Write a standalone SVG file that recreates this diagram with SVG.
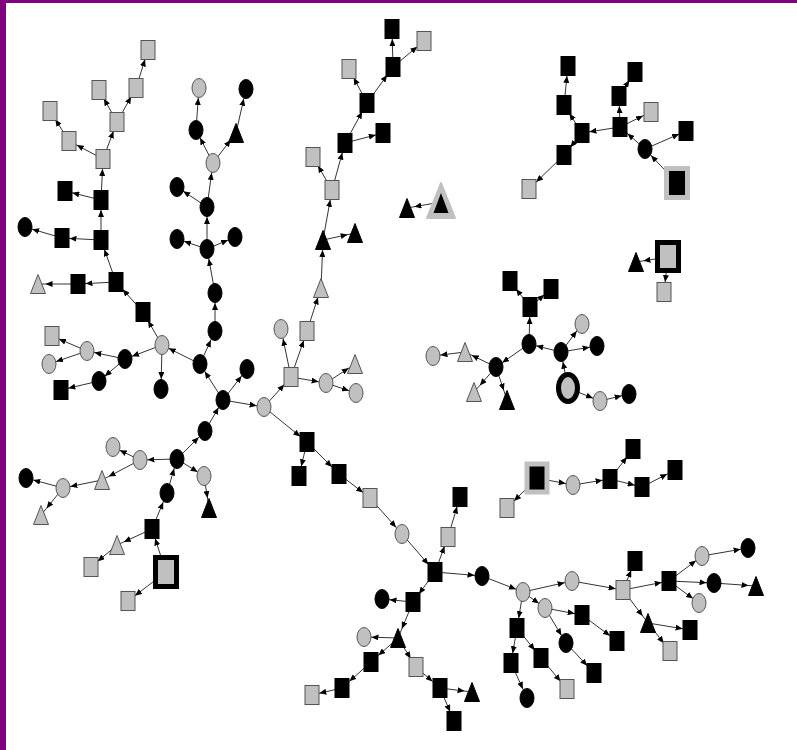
<svg xmlns="http://www.w3.org/2000/svg" xmlns:xlink="http://www.w3.org/1999/xlink" width="797" height="750" viewBox="0 0 797 750">
<style>
.e line{stroke:#333;stroke-width:1}
.A{marker-end:url(#mA)}
.B{marker-end:url(#mB)}
.C{marker-end:url(#mC)}
.g{fill:#c0c0c0;stroke:#555;stroke-width:1}
.b{fill:#000;stroke:#000;stroke-width:1}
</style>
<defs>
<marker id="mA" markerUnits="userSpaceOnUse" markerWidth="7" markerHeight="6" refX="14.5" refY="3" orient="auto"><path d="M0,0 L7,3 L0,6 z" fill="#000"/></marker>
<marker id="mB" markerUnits="userSpaceOnUse" markerWidth="7" markerHeight="6" refX="15.8" refY="3" orient="auto"><path d="M0,0 L7,3 L0,6 z" fill="#000"/></marker>
<marker id="mC" markerUnits="userSpaceOnUse" markerWidth="7" markerHeight="6" refX="17" refY="3" orient="auto"><path d="M0,0 L7,3 L0,6 z" fill="#000"/></marker>
<rect id="r" x="-7" y="-9.5" width="14" height="19"/>
<ellipse id="c" cx="0" cy="0" rx="7" ry="9.5"/>
<polygon id="t" points="0,-9.5 7.5,9.5 -7.5,9.5"/>
</defs>
<rect x="0" y="0" width="797" height="750" fill="#fff"/>
<rect x="0" y="0" width="6" height="750" fill="#800080"/>
<rect x="0" y="0" width="797" height="3" fill="#800080"/>
<g id="connectors" class="e">
<line class="C" x1="166" y1="572" x2="152" y2="529"/>
<line class="A" x1="152" y1="529" x2="117" y2="545"/>
<line class="B" x1="117" y1="545" x2="91" y2="567"/>
<line class="B" x1="166" y1="572" x2="128" y2="601"/>
<line class="C" x1="152" y1="529" x2="167" y2="493"/>
<line class="C" x1="167" y1="493" x2="177" y2="459"/>
<line class="A" x1="177" y1="459" x2="140" y2="460"/>
<line class="A" x1="140" y1="460" x2="113" y2="447"/>
<line class="A" x1="140" y1="460" x2="102" y2="480"/>
<line class="A" x1="102" y1="480" x2="63" y2="488"/>
<line class="A" x1="63" y1="488" x2="26" y2="478"/>
<line class="B" x1="63" y1="488" x2="41" y2="515"/>
<line class="A" x1="177" y1="459" x2="204" y2="476"/>
<line class="C" x1="204" y1="476" x2="209" y2="508"/>
<line class="B" x1="177" y1="459" x2="205" y2="431"/>
<line class="B" x1="205" y1="431" x2="223" y2="400"/>
<line class="A" x1="223" y1="400" x2="264" y2="407"/>
<line class="B" x1="223" y1="400" x2="247" y2="369"/>
<line class="B" x1="223" y1="400" x2="200" y2="364"/>
<line class="A" x1="200" y1="364" x2="162" y2="345"/>
<line class="C" x1="162" y1="345" x2="161" y2="389"/>
<line class="A" x1="162" y1="345" x2="125" y2="359"/>
<line class="A" x1="125" y1="359" x2="87" y2="351"/>
<line class="A" x1="87" y1="351" x2="52" y2="336"/>
<line class="A" x1="87" y1="351" x2="49" y2="364"/>
<line class="A" x1="125" y1="359" x2="99" y2="381"/>
<line class="A" x1="99" y1="381" x2="61" y2="390"/>
<line class="C" x1="162" y1="345" x2="143" y2="312"/>
<line class="C" x1="143" y1="312" x2="116" y2="282"/>
<line class="A" x1="116" y1="282" x2="78" y2="284"/>
<line class="A" x1="78" y1="284" x2="38" y2="284"/>
<line class="C" x1="116" y1="282" x2="101" y2="240"/>
<line class="A" x1="101" y1="240" x2="62" y2="238"/>
<line class="A" x1="62" y1="238" x2="25" y2="227"/>
<line class="C" x1="101" y1="240" x2="101" y2="200"/>
<line class="A" x1="101" y1="200" x2="65" y2="191"/>
<line class="C" x1="101" y1="200" x2="103" y2="159"/>
<line class="B" x1="103" y1="159" x2="69" y2="141"/>
<line class="C" x1="69" y1="141" x2="50" y2="111"/>
<line class="C" x1="103" y1="159" x2="117" y2="122"/>
<line class="C" x1="117" y1="122" x2="99" y2="90"/>
<line class="C" x1="117" y1="122" x2="136" y2="88"/>
<line class="C" x1="136" y1="88" x2="148" y2="50"/>
<line class="C" x1="200" y1="364" x2="215" y2="331"/>
<line class="C" x1="215" y1="331" x2="215" y2="293"/>
<line class="C" x1="215" y1="293" x2="207" y2="249"/>
<line class="A" x1="207" y1="249" x2="177" y2="239"/>
<line class="A" x1="207" y1="249" x2="235" y2="237"/>
<line class="C" x1="207" y1="249" x2="207" y2="207"/>
<line class="A" x1="207" y1="207" x2="177" y2="187"/>
<line class="C" x1="207" y1="207" x2="213" y2="163"/>
<line class="B" x1="213" y1="163" x2="196" y2="130"/>
<line class="C" x1="196" y1="130" x2="199" y2="88"/>
<line class="B" x1="213" y1="163" x2="236" y2="133"/>
<line class="C" x1="236" y1="133" x2="246" y2="89"/>
<line class="C" x1="264" y1="407" x2="291" y2="377"/>
<line class="C" x1="291" y1="377" x2="281" y2="329"/>
<line class="C" x1="291" y1="377" x2="307" y2="331"/>
<line class="C" x1="307" y1="331" x2="321" y2="288"/>
<line class="C" x1="321" y1="288" x2="323" y2="240"/>
<line class="A" x1="323" y1="240" x2="355" y2="233"/>
<line class="C" x1="323" y1="240" x2="332" y2="190"/>
<line class="C" x1="332" y1="190" x2="313" y2="157"/>
<line class="C" x1="332" y1="190" x2="345" y2="143"/>
<line class="A" x1="345" y1="143" x2="383" y2="133"/>
<line class="C" x1="345" y1="143" x2="367" y2="103"/>
<line class="C" x1="367" y1="103" x2="349" y2="69"/>
<line class="C" x1="367" y1="103" x2="393" y2="67"/>
<line class="C" x1="393" y1="67" x2="392" y2="29"/>
<line class="B" x1="393" y1="67" x2="424" y2="41"/>
<line class="A" x1="291" y1="377" x2="326" y2="383"/>
<line class="A" x1="326" y1="383" x2="355" y2="364"/>
<line class="A" x1="326" y1="383" x2="356" y2="393"/>
<line class="B" x1="264" y1="407" x2="307" y2="442"/>
<line class="C" x1="307" y1="442" x2="299" y2="476"/>
<line class="C" x1="307" y1="442" x2="339" y2="474"/>
<line class="B" x1="339" y1="474" x2="370" y2="498"/>
<line class="B" x1="370" y1="498" x2="402" y2="534"/>
<line class="C" x1="402" y1="534" x2="435" y2="572"/>
<line class="C" x1="435" y1="572" x2="448" y2="537"/>
<line class="C" x1="448" y1="537" x2="460" y2="497"/>
<line class="A" x1="435" y1="572" x2="482" y2="576"/>
<line class="A" x1="482" y1="576" x2="523" y2="592"/>
<line class="C" x1="435" y1="572" x2="413" y2="602"/>
<line class="A" x1="413" y1="602" x2="382" y2="599"/>
<line class="C" x1="413" y1="602" x2="398" y2="638"/>
<line class="A" x1="398" y1="638" x2="364" y2="637"/>
<line class="C" x1="398" y1="638" x2="371" y2="662"/>
<line class="C" x1="371" y1="662" x2="342" y2="688"/>
<line class="A" x1="342" y1="688" x2="312" y2="695"/>
<line class="C" x1="398" y1="638" x2="416" y2="667"/>
<line class="C" x1="416" y1="667" x2="440" y2="688"/>
<line class="A" x1="440" y1="688" x2="472" y2="692"/>
<line class="C" x1="440" y1="688" x2="454" y2="721"/>
<line class="A" x1="523" y1="592" x2="572" y2="581"/>
<line class="A" x1="572" y1="581" x2="623" y2="590"/>
<line class="A" x1="523" y1="592" x2="545" y2="608"/>
<line class="A" x1="545" y1="608" x2="582" y2="615"/>
<line class="B" x1="582" y1="615" x2="617" y2="641"/>
<line class="B" x1="545" y1="608" x2="566" y2="643"/>
<line class="C" x1="566" y1="643" x2="594" y2="673"/>
<line class="C" x1="523" y1="592" x2="517" y2="628"/>
<line class="C" x1="517" y1="628" x2="511" y2="663"/>
<line class="C" x1="511" y1="663" x2="527" y2="698"/>
<line class="C" x1="517" y1="628" x2="541" y2="658"/>
<line class="C" x1="541" y1="658" x2="567" y2="689"/>
<line class="C" x1="623" y1="590" x2="635" y2="561"/>
<line class="A" x1="623" y1="590" x2="669" y2="581"/>
<line class="B" x1="623" y1="590" x2="648" y2="623"/>
<line class="A" x1="648" y1="623" x2="690" y2="630"/>
<line class="C" x1="648" y1="623" x2="670" y2="651"/>
<line class="A" x1="669" y1="581" x2="702" y2="556"/>
<line class="A" x1="702" y1="556" x2="748" y2="548"/>
<line class="A" x1="669" y1="581" x2="714" y2="583"/>
<line class="A" x1="714" y1="583" x2="756" y2="586"/>
<line class="A" x1="669" y1="581" x2="699" y2="603"/>
<line class="B" x1="677" y1="183" x2="645" y2="149"/>
<line class="C" x1="645" y1="149" x2="620" y2="127"/>
<line class="A" x1="645" y1="149" x2="686" y2="131"/>
<line class="C" x1="620" y1="127" x2="619" y2="96"/>
<line class="C" x1="619" y1="96" x2="635" y2="72"/>
<line class="B" x1="620" y1="127" x2="651" y2="112"/>
<line class="A" x1="620" y1="127" x2="582" y2="133"/>
<line class="C" x1="582" y1="133" x2="564" y2="105"/>
<line class="C" x1="564" y1="105" x2="568" y2="66"/>
<line class="C" x1="582" y1="133" x2="564" y2="155"/>
<line class="C" x1="564" y1="155" x2="529" y2="189"/>
<line class="A" x1="441" y1="202" x2="407" y2="208"/>
<line class="A" x1="668" y1="257" x2="636" y2="262"/>
<line class="C" x1="668" y1="257" x2="664" y2="292"/>
<line class="C" x1="568" y1="388" x2="561" y2="352"/>
<line class="B" x1="561" y1="352" x2="582" y2="324"/>
<line class="A" x1="561" y1="352" x2="597" y2="346"/>
<line class="A" x1="561" y1="352" x2="529" y2="344"/>
<line class="C" x1="529" y1="344" x2="530" y2="307"/>
<line class="C" x1="530" y1="307" x2="510" y2="281"/>
<line class="B" x1="530" y1="307" x2="551" y2="289"/>
<line class="A" x1="529" y1="344" x2="496" y2="367"/>
<line class="A" x1="496" y1="367" x2="465" y2="352"/>
<line class="A" x1="465" y1="352" x2="433" y2="356"/>
<line class="B" x1="496" y1="367" x2="474" y2="392"/>
<line class="C" x1="496" y1="367" x2="507" y2="400"/>
<line class="A" x1="568" y1="388" x2="600" y2="401"/>
<line class="A" x1="600" y1="401" x2="629" y2="394"/>
<line class="C" x1="537" y1="478" x2="507" y2="508"/>
<line class="A" x1="537" y1="478" x2="573" y2="485"/>
<line class="A" x1="573" y1="485" x2="610" y2="479"/>
<line class="C" x1="610" y1="479" x2="633" y2="449"/>
<line class="A" x1="610" y1="479" x2="642" y2="487"/>
<line class="B" x1="642" y1="487" x2="675" y2="470"/>
</g>
<g id="root0"><rect x="155.5" y="557.5" width="21" height="29" fill="#c0c0c0" stroke="#000" stroke-width="5"/></g>
<g id="n1"><use href="#r" x="152" y="529" class="b"/></g>
<g id="n2"><use href="#t" x="117" y="545" class="g"/></g>
<g id="n3"><use href="#r" x="91" y="567" class="g"/></g>
<g id="n4"><use href="#r" x="128" y="601" class="g"/></g>
<g id="n5"><use href="#c" x="167" y="493" class="b"/></g>
<g id="n6"><use href="#c" x="177" y="459" class="b"/></g>
<g id="n7"><use href="#c" x="140" y="460" class="g"/></g>
<g id="n8"><use href="#c" x="113" y="447" class="g"/></g>
<g id="n9"><use href="#t" x="102" y="480" class="g"/></g>
<g id="n10"><use href="#c" x="63" y="488" class="g"/></g>
<g id="n11"><use href="#c" x="26" y="478" class="b"/></g>
<g id="n12"><use href="#t" x="41" y="515" class="g"/></g>
<g id="n13"><use href="#c" x="204" y="476" class="g"/></g>
<g id="n14"><use href="#t" x="209" y="508" class="b"/></g>
<g id="n15"><use href="#c" x="205" y="431" class="b"/></g>
<g id="n16"><use href="#c" x="223" y="400" class="b"/></g>
<g id="n17"><use href="#c" x="247" y="369" class="b"/></g>
<g id="n18"><use href="#c" x="200" y="364" class="b"/></g>
<g id="n19"><use href="#c" x="162" y="345" class="g"/></g>
<g id="n20"><use href="#c" x="161" y="389" class="b"/></g>
<g id="n21"><use href="#c" x="125" y="359" class="b"/></g>
<g id="n22"><use href="#c" x="87" y="351" class="g"/></g>
<g id="n23"><use href="#r" x="52" y="336" class="g"/></g>
<g id="n24"><use href="#c" x="49" y="364" class="g"/></g>
<g id="n25"><use href="#c" x="99" y="381" class="b"/></g>
<g id="n26"><use href="#r" x="61" y="390" class="b"/></g>
<g id="n27"><use href="#r" x="143" y="312" class="b"/></g>
<g id="n28"><use href="#r" x="116" y="282" class="b"/></g>
<g id="n29"><use href="#r" x="78" y="284" class="b"/></g>
<g id="n30"><use href="#t" x="38" y="284" class="g"/></g>
<g id="n31"><use href="#r" x="101" y="240" class="b"/></g>
<g id="n32"><use href="#r" x="62" y="238" class="b"/></g>
<g id="n33"><use href="#c" x="25" y="227" class="b"/></g>
<g id="n34"><use href="#r" x="101" y="200" class="b"/></g>
<g id="n35"><use href="#r" x="65" y="191" class="b"/></g>
<g id="n36"><use href="#r" x="103" y="159" class="g"/></g>
<g id="n37"><use href="#r" x="69" y="141" class="g"/></g>
<g id="n38"><use href="#r" x="50" y="111" class="g"/></g>
<g id="n39"><use href="#r" x="117" y="122" class="g"/></g>
<g id="n40"><use href="#r" x="99" y="90" class="g"/></g>
<g id="n41"><use href="#r" x="136" y="88" class="g"/></g>
<g id="n42"><use href="#r" x="148" y="50" class="g"/></g>
<g id="n43"><use href="#c" x="215" y="331" class="b"/></g>
<g id="n44"><use href="#c" x="215" y="293" class="b"/></g>
<g id="n45"><use href="#c" x="207" y="249" class="b"/></g>
<g id="n46"><use href="#c" x="177" y="239" class="b"/></g>
<g id="n47"><use href="#c" x="235" y="237" class="b"/></g>
<g id="n48"><use href="#c" x="207" y="207" class="b"/></g>
<g id="n49"><use href="#c" x="177" y="187" class="b"/></g>
<g id="n50"><use href="#c" x="213" y="163" class="g"/></g>
<g id="n51"><use href="#c" x="196" y="130" class="b"/></g>
<g id="n52"><use href="#c" x="199" y="88" class="g"/></g>
<g id="n53"><use href="#t" x="236" y="133" class="b"/></g>
<g id="n54"><use href="#c" x="246" y="89" class="b"/></g>
<g id="n55"><use href="#c" x="264" y="407" class="g"/></g>
<g id="n56"><use href="#r" x="291" y="377" class="g"/></g>
<g id="n57"><use href="#c" x="281" y="329" class="g"/></g>
<g id="n58"><use href="#r" x="307" y="331" class="g"/></g>
<g id="n59"><use href="#t" x="321" y="288" class="g"/></g>
<g id="n60"><use href="#t" x="323" y="240" class="b"/></g>
<g id="n61"><use href="#t" x="355" y="233" class="b"/></g>
<g id="n62"><use href="#r" x="332" y="190" class="g"/></g>
<g id="n63"><use href="#r" x="313" y="157" class="g"/></g>
<g id="n64"><use href="#r" x="345" y="143" class="b"/></g>
<g id="n65"><use href="#r" x="383" y="133" class="b"/></g>
<g id="n66"><use href="#r" x="367" y="103" class="b"/></g>
<g id="n67"><use href="#r" x="349" y="69" class="g"/></g>
<g id="n68"><use href="#r" x="393" y="67" class="b"/></g>
<g id="n69"><use href="#r" x="392" y="29" class="b"/></g>
<g id="n70"><use href="#r" x="424" y="41" class="g"/></g>
<g id="n71"><use href="#c" x="326" y="383" class="g"/></g>
<g id="n72"><use href="#t" x="355" y="364" class="g"/></g>
<g id="n73"><use href="#c" x="356" y="393" class="g"/></g>
<g id="n74"><use href="#r" x="307" y="442" class="b"/></g>
<g id="n75"><use href="#r" x="299" y="476" class="b"/></g>
<g id="n76"><use href="#r" x="339" y="474" class="b"/></g>
<g id="n77"><use href="#r" x="370" y="498" class="g"/></g>
<g id="n78"><use href="#c" x="402" y="534" class="g"/></g>
<g id="n79"><use href="#r" x="435" y="572" class="b"/></g>
<g id="n80"><use href="#r" x="448" y="537" class="g"/></g>
<g id="n81"><use href="#r" x="460" y="497" class="b"/></g>
<g id="n82"><use href="#c" x="482" y="576" class="b"/></g>
<g id="n83"><use href="#c" x="523" y="592" class="g"/></g>
<g id="n84"><use href="#r" x="413" y="602" class="b"/></g>
<g id="n85"><use href="#c" x="382" y="599" class="b"/></g>
<g id="n86"><use href="#t" x="398" y="638" class="b"/></g>
<g id="n87"><use href="#c" x="364" y="637" class="g"/></g>
<g id="n88"><use href="#r" x="371" y="662" class="b"/></g>
<g id="n89"><use href="#r" x="342" y="688" class="b"/></g>
<g id="n90"><use href="#r" x="312" y="695" class="g"/></g>
<g id="n91"><use href="#r" x="416" y="667" class="g"/></g>
<g id="n92"><use href="#r" x="440" y="688" class="b"/></g>
<g id="n93"><use href="#t" x="472" y="692" class="b"/></g>
<g id="n94"><use href="#r" x="454" y="721" class="b"/></g>
<g id="n95"><use href="#c" x="572" y="581" class="g"/></g>
<g id="n96"><use href="#r" x="623" y="590" class="g"/></g>
<g id="n97"><use href="#c" x="545" y="608" class="g"/></g>
<g id="n98"><use href="#r" x="582" y="615" class="b"/></g>
<g id="n99"><use href="#r" x="617" y="641" class="b"/></g>
<g id="n100"><use href="#c" x="566" y="643" class="b"/></g>
<g id="n101"><use href="#r" x="594" y="673" class="b"/></g>
<g id="n102"><use href="#r" x="517" y="628" class="b"/></g>
<g id="n103"><use href="#r" x="511" y="663" class="b"/></g>
<g id="n104"><use href="#c" x="527" y="698" class="b"/></g>
<g id="n105"><use href="#r" x="541" y="658" class="b"/></g>
<g id="n106"><use href="#r" x="567" y="689" class="g"/></g>
<g id="n107"><use href="#r" x="635" y="561" class="b"/></g>
<g id="n108"><use href="#r" x="669" y="581" class="b"/></g>
<g id="n109"><use href="#t" x="648" y="623" class="b"/></g>
<g id="n110"><use href="#r" x="690" y="630" class="b"/></g>
<g id="n111"><use href="#r" x="670" y="651" class="g"/></g>
<g id="n112"><use href="#c" x="702" y="556" class="g"/></g>
<g id="n113"><use href="#c" x="748" y="548" class="b"/></g>
<g id="n114"><use href="#c" x="714" y="583" class="b"/></g>
<g id="n115"><use href="#t" x="756" y="586" class="b"/></g>
<g id="n116"><use href="#c" x="699" y="603" class="g"/></g>
<g id="root1"><rect x="666.5" y="168.5" width="21" height="29" fill="#000" stroke="#c0c0c0" stroke-width="5"/></g>
<g id="m1"><use href="#c" x="645" y="149" class="b"/></g>
<g id="m2"><use href="#r" x="620" y="127" class="b"/></g>
<g id="m3"><use href="#r" x="619" y="96" class="b"/></g>
<g id="m4"><use href="#r" x="635" y="72" class="b"/></g>
<g id="m5"><use href="#r" x="651" y="112" class="g"/></g>
<g id="m6"><use href="#r" x="686" y="131" class="b"/></g>
<g id="m7"><use href="#r" x="582" y="133" class="b"/></g>
<g id="m8"><use href="#r" x="564" y="105" class="b"/></g>
<g id="m9"><use href="#r" x="568" y="66" class="b"/></g>
<g id="m10"><use href="#r" x="564" y="155" class="b"/></g>
<g id="m11"><use href="#r" x="529" y="189" class="g"/></g>
<g id="root2"><polygon points="441,183 455,218 427,218" fill="#c0c0c0" stroke="#c0c0c0" stroke-width="2" stroke-linejoin="round"/><polygon points="441,193 448.5,213 433.5,213" fill="#000"/></g>
<g id="p1"><use href="#t" x="407" y="208" class="b"/></g>
<g id="root3"><rect x="657.5" y="242.5" width="21" height="28" fill="#c0c0c0" stroke="#000" stroke-width="5"/></g>
<g id="q1"><use href="#t" x="636" y="262" class="b"/></g>
<g id="q2"><use href="#r" x="664" y="292" class="g"/></g>
<g id="root4"><ellipse cx="568" cy="388" rx="9.5" ry="13.5" fill="#c0c0c0" stroke="#000" stroke-width="5"/></g>
<g id="s1"><use href="#c" x="561" y="352" class="b"/></g>
<g id="s2"><use href="#c" x="582" y="324" class="g"/></g>
<g id="s3"><use href="#c" x="597" y="346" class="b"/></g>
<g id="s4"><use href="#c" x="529" y="344" class="b"/></g>
<g id="s5"><use href="#r" x="530" y="307" class="b"/></g>
<g id="s6"><use href="#r" x="510" y="281" class="b"/></g>
<g id="s7"><use href="#r" x="551" y="289" class="b"/></g>
<g id="s8"><use href="#c" x="496" y="367" class="b"/></g>
<g id="s9"><use href="#t" x="465" y="352" class="g"/></g>
<g id="s10"><use href="#c" x="433" y="356" class="g"/></g>
<g id="s11"><use href="#t" x="474" y="392" class="g"/></g>
<g id="s12"><use href="#t" x="507" y="400" class="b"/></g>
<g id="s13"><use href="#c" x="600" y="401" class="g"/></g>
<g id="s14"><use href="#c" x="629" y="394" class="b"/></g>
<g id="root5"><rect x="527" y="464" width="20" height="28" fill="#000" stroke="#c0c0c0" stroke-width="5"/></g>
<g id="u1"><use href="#r" x="507" y="508" class="g"/></g>
<g id="u2"><use href="#c" x="573" y="485" class="g"/></g>
<g id="u3"><use href="#r" x="610" y="479" class="b"/></g>
<g id="u4"><use href="#r" x="633" y="449" class="b"/></g>
<g id="u5"><use href="#r" x="642" y="487" class="b"/></g>
<g id="u6"><use href="#r" x="675" y="470" class="b"/></g>
</svg>
